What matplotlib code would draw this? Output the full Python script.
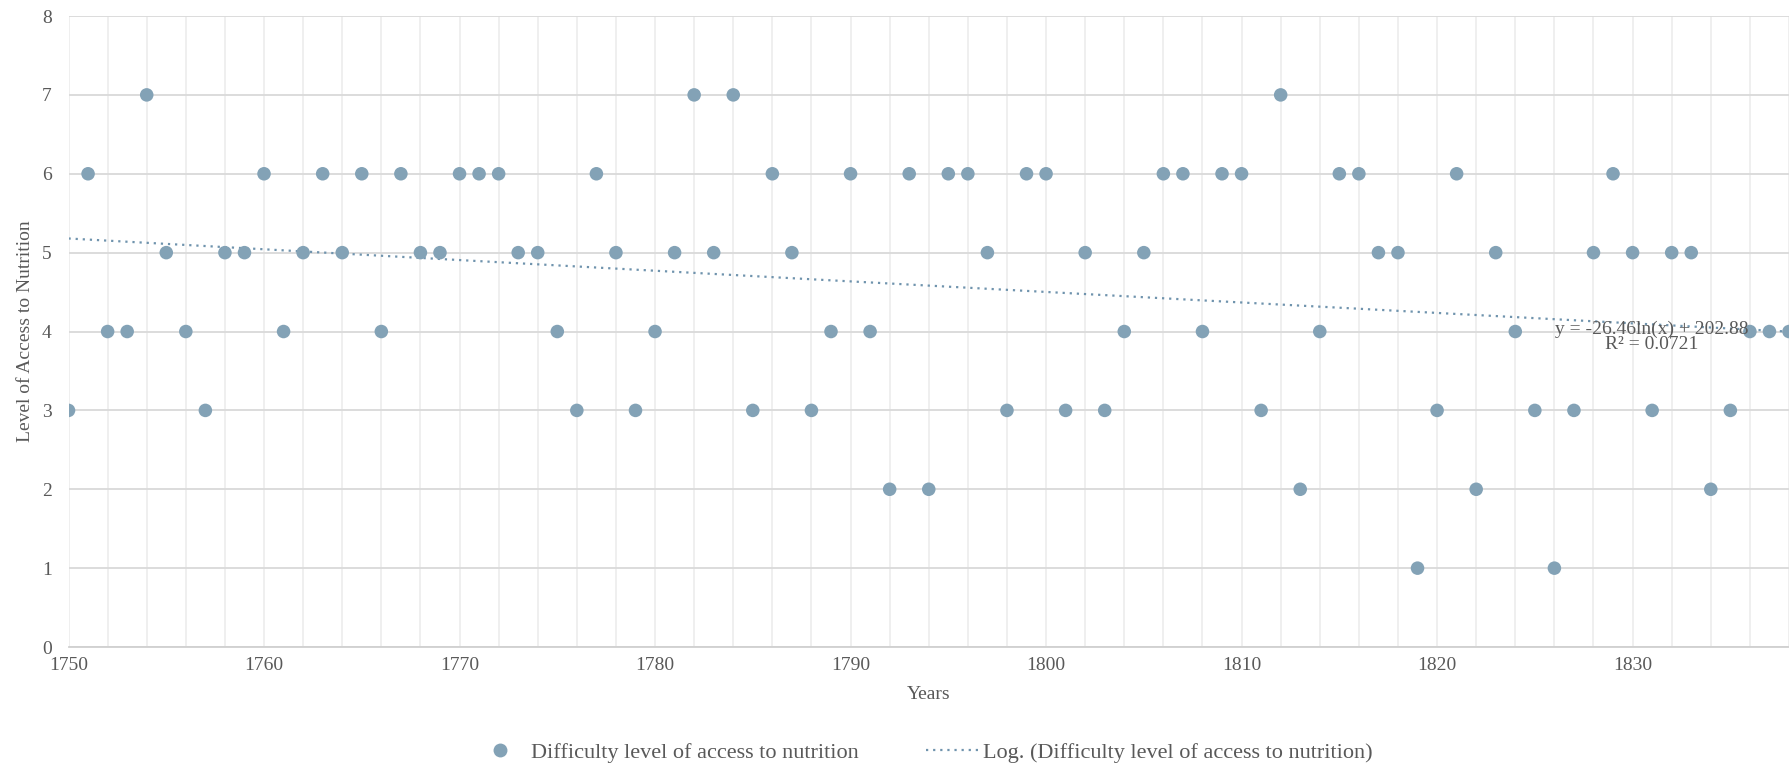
import matplotlib
matplotlib.use('Agg')
import matplotlib.pyplot as plt
import numpy as np
from matplotlib.lines import Line2D
from matplotlib.ticker import MultipleLocator

# data
years = list(range(1750, 1839))
levels = [
    3, 6, 4, 4, 7, 5, 4, 3, 5, 5,   # 1750-1759
    6, 4, 5, 6, 5, 6, 4, 6, 5, 5,   # 1760-1769
    6, 6, 6, 5, 5, 4, 3, 6, 5, 3,   # 1770-1779
    4, 5, 7, 5, 7, 3, 6, 5, 3, 4,   # 1780-1789
    6, 4, 2, 6, 2, 6, 6, 5, 3, 6,   # 1790-1799
    6, 3, 5, 3, 4, 5, 6, 6, 4, 6,   # 1800-1809
    6, 3, 7, 2, 4, 6, 6, 5, 5, 1,   # 1810-1819
    3, 6, 2, 5, 4, 3, 1, 3, 5, 6,   # 1820-1829
    5, 3, 5, 5, 2, 3, 4, 4, 4,      # 1830-1838
]
series_label = "Difficulty level of access to nutrition"
trend_label = "Log. (Difficulty level of access to nutrition)"
equation_text = "y = -26.46ln(x) + 202.88\nR\u00b2 = 0.0721"

MARK = '#83a2b6'
TREND = '#6f93ad'
TEXT = '#595959'
plt.rcParams['font.family'] = ['Liberation Serif', 'DejaVu Serif']

fig = plt.figure(figsize=(17.89, 7.63), dpi=100)
ax = fig.add_axes([0.0383, 0.152, 0.9617, 0.827])

x = np.array(years, dtype=float)
y = np.array(levels, dtype=float)

# logarithmic trendline (Excel style)
a, b = np.polyfit(np.log(x), y, 1)
xt = np.linspace(x.min(), x.max(), 300)
ax.plot(xt, a * np.log(xt) + b, color=TREND, lw=1.6,
        linestyle=(0, (1, 2.2)), zorder=2)

ax.scatter(x, y, s=95, color=MARK, edgecolors='none', zorder=3)

ax.text(1831.0, 3.93, equation_text, ha='center', va='center',
        fontsize=14, color=TEXT, linespacing=0.85, zorder=4)

ax.set_xlim(1750, 1838)
ax.set_ylim(0, 8)
ax.xaxis.set_major_locator(MultipleLocator(10))
ax.xaxis.set_minor_locator(MultipleLocator(2))
ax.yaxis.set_major_locator(MultipleLocator(1))
ax.grid(True, axis='x', which='both', color='#ececec', lw=1.2)
ax.grid(True, axis='y', which='major', color='#d9d9d9', lw=1.3)
ax.set_axisbelow(True)
ax.tick_params(axis='both', which='both', length=0, labelsize=14,
               labelcolor=TEXT)
ax.tick_params(axis='y', pad=12)
ax.tick_params(axis='x', pad=7)
for s in ['top', 'right', 'left']:
    ax.spines[s].set_visible(False)
ax.spines['bottom'].set_color('#d0d0d0')
ax.spines['bottom'].set_linewidth(1.3)

ax.set_xlabel("Years", fontsize=14, color=TEXT, labelpad=9)
ax.set_ylabel("Level of Access to Nutrition", fontsize=14, color=TEXT,
              labelpad=6)

handles = [
    Line2D([0], [0], marker='o', color='none', markerfacecolor=MARK,
           markeredgecolor='none', markersize=10, label=series_label),
    Line2D([0], [0], color=TREND, lw=1.6, linestyle=(0, (1, 2.2)),
           label=trend_label),
]
leg = fig.legend(handles=handles, loc='center',
                 bbox_to_anchor=(0.516, 0.0135), ncol=2, frameon=False,
                 fontsize=16, columnspacing=3.0, handlelength=2.4,
                 handletextpad=0.2, borderpad=0)
for t in leg.get_texts():
    t.set_color(TEXT)

fig.savefig("out.png", dpi=100)
